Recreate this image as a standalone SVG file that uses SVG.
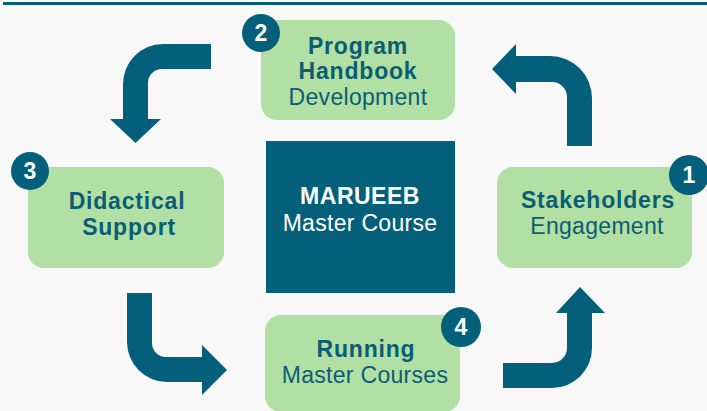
<svg xmlns="http://www.w3.org/2000/svg" width="707" height="411" viewBox="0 0 707 411">
  <style>
    .box { fill: #b2dfa3; }
    .badge { fill: #04607a; }
    .arrow { fill: #04607a; }
    text { font-family: "Liberation Sans", Arial, sans-serif; font-size: 23px; text-anchor: middle; }
    .b { font-weight: bold; fill: #0b5d73; letter-spacing: 0.8px; }
    .r { fill: #0b5d73; letter-spacing: 0.3px; }
    .wb { font-weight: bold; fill: #ffffff; letter-spacing: 0.5px; }
    .wr { fill: #ffffff; letter-spacing: 0.3px; }
    .num { font-weight: bold; fill: #ffffff; font-size: 23px; }
  </style>
  <rect x="0" y="0" width="707" height="411" fill="#f8f8f8"/>
  <rect x="3" y="2" width="704" height="3" fill="#04607a"/>

  <g id="connectors">
    <path class="arrow" d="M211,44 L163,44 A40,40 0 0 0 123,84 L123,119 L110,119 L135.5,143 L161,119 L148,119 L148,83 A14,14 0 0 1 162,69 L211,69 Z"/>
    <path class="arrow" d="M516,44 L492,69 L516,94 L516,82 L552,82 A15,15 0 0 1 567,97 L567,146 L592,146 L592,98 A42,42 0 0 0 550,56 L516,56 Z"/>
    <path class="arrow" d="M127,293 L152,293 L152,343 A14,14 0 0 0 166,357 L202,357 L202,345 L227,370 L202,395 L202,382 L167,382 A40,40 0 0 1 127,342 Z"/>
    <path class="arrow" d="M503,363 L552,363 A15,15 0 0 0 567,348 L567,313 L556,313 L580,287 L605,313 L592,313 L592,348 A40,40 0 0 1 552,388 L503,388 Z"/>
  </g>

  <g id="center">
    <rect x="266" y="141" width="189" height="152" fill="#04607a"/>
    <text class="wb" x="360" y="204">MARUEEB</text>
    <text class="wr" x="360" y="231">Master Course</text>
  </g>

  <g id="node1">
    <rect class="box" x="497" y="167" width="195" height="101" rx="16"/>
    <text class="b" x="598" y="208">Stakeholders</text>
    <text class="r" x="597" y="234">Engagement</text>
    <circle class="badge" cx="689" cy="175" r="20"/>
    <text class="num" x="689" y="183">1</text>
  </g>

  <g id="node2">
    <rect class="box" x="261" y="20" width="194" height="100" rx="16"/>
    <text class="b" x="358" y="54">Program</text>
    <text class="b" x="358" y="79">Handbook</text>
    <text class="r" x="358" y="105">Development</text>
    <circle class="badge" cx="261" cy="33" r="19"/>
    <text class="num" x="261" y="41">2</text>
  </g>

  <g id="node3">
    <rect class="box" x="28" y="167" width="196" height="101" rx="16"/>
    <text class="b" x="127" y="209">Didactical</text>
    <text class="b" x="129" y="235">Support</text>
    <circle class="badge" cx="30" cy="171" r="19"/>
    <text class="num" x="30" y="179">3</text>
  </g>

  <g id="node4">
    <rect class="box" x="265" y="315" width="195" height="97" rx="16"/>
    <text class="b" x="366" y="357">Running</text>
    <text class="r" x="365" y="383">Master Courses</text>
    <circle class="badge" cx="461" cy="327" r="20"/>
    <text class="num" x="461" y="335">4</text>
  </g>
</svg>
